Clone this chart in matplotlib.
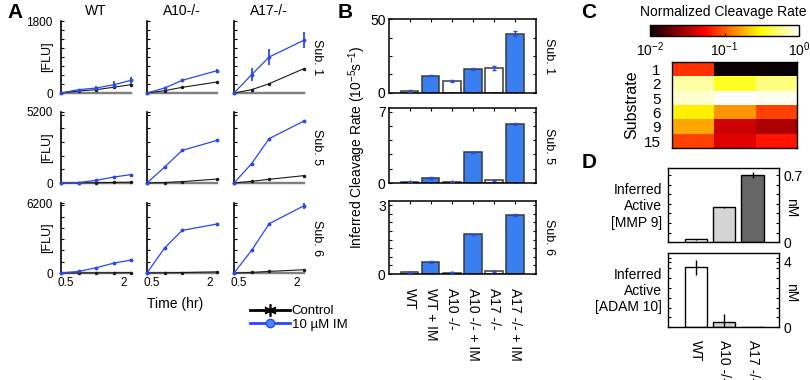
import numpy as np
import matplotlib
matplotlib.use("Agg")
import matplotlib.pyplot as plt
from matplotlib.colors import LogNorm
from matplotlib.lines import Line2D
import matplotlib.ticker as mticker

# ---------------- data ----------------
times_wt = [0.37, 0.83, 1.29, 1.76, 2.2]
times_ko = [0.37, 0.83, 1.29, 2.2]
genotype_titles = ["WT", "A10-/-", "A17-/-"]
substrate_rows = ["Sub. 1", "Sub. 5", "Sub. 6"]
flu_max = [1800, 5200, 6200]

sub1_ctrl = [[0, 50, 83, 146, 208], [0, 58, 142, 275], [0, 83, 233, 610]]
sub1_ctrl_err = [[0, 10, 10, 20, 20], [0, 10, 10, 20], [0, 10, 20, 25]]
sub1_im = [[0, 83, 125, 208, 317], [0, 125, 317, 558], [0, 458, 900, 1320]]
sub1_im_err = [[0, 20, 40, 80, 80], [0, 20, 20, 40], [0, 170, 200, 200]]

sub5_ctrl = [[0, 10, 20, 40, 60], [0, 30, 100, 290], [0, 124, 270, 540]]
sub5_ctrl_err = [[0, 5, 5, 10, 10], [0, 10, 10, 20], [0, 10, 20, 20]]
sub5_im = [[0, 30, 197, 440, 615], [0, 1170, 2390, 3120], [0, 1420, 3250, 4540]]
sub5_im_err = [[0, 20, 40, 60, 60], [0, 40, 60, 60], [0, 60, 60, 60]]

sub6_ctrl = [[0, 5, 10, 20, 30], [0, 20, 40, 100], [0, 50, 140, 290]]
sub6_ctrl_err = [[0, 5, 5, 10, 10], [0, 10, 10, 20], [0, 10, 20, 20]]
sub6_im = [[0, 140, 470, 880, 1150], [0, 2215, 3775, 4340], [0, 2000, 4370, 5960]]
sub6_im_err = [[0, 30, 60, 100, 80], [0, 60, 100, 100], [0, 60, 80, 250]]

conditions = ["WT", "WT + IM", "A10 -/-", "A10 -/- + IM", "A17 -/-", "A17 -/- + IM"]
rate_sub1 = [1.2, 11.5, 8.2, 16.1, 16.8, 40.3]
rate_sub1_err = [0.8, 0.4, 0.7, 0.4, 1.6, 1.5]
rate_sub5 = [0.1, 0.47, 0.1, 3.0, 0.26, 5.78]
rate_sub5_err = [0.03, 0.12, 0.03, 0.06, 0.05, 0.12]
rate_sub6 = [0.07, 0.53, 0.05, 1.72, 0.12, 2.56]
rate_sub6_err = [0.02, 0.03, 0.02, 0.04, 0.02, 0.04]
rate_label_max = [50, 7, 3]
rate_ylim = [50, 7.35, 3.19]

heat_substrates = ["1", "2", "5", "6", "9", "15"]
norm_rate = [
    [0.075, 0.01, 0.01],
    [0.65, 0.36, 0.55],
    [0.80, 1.00, 0.93],
    [0.28, 0.15, 0.085],
    [0.17, 0.038, 0.031],
    [0.085, 0.043, 0.062],
]

genotypes = ["WT", "A10 -/-", "A17 -/-"]
mmp9_nM = [0.031, 0.364, 0.70]
mmp9_err = [0.003, 0.007, 0.03]
adam10_nM = [3.66, 0.34, 0.0]
adam10_err = [0.46, 0.46, 0.0]

# ---------------- style ----------------
plt.rcParams['font.family'] = ['Liberation Sans', 'DejaVu Sans']
plt.rcParams['mathtext.fontset'] = 'custom'
plt.rcParams['mathtext.rm'] = 'Liberation Sans'
plt.rcParams['mathtext.it'] = 'Liberation Sans:italic'
plt.rcParams['mathtext.default'] = 'regular'

W, H = 810, 380
fig = plt.figure(figsize=(W / 100, H / 100), dpi=100)
BLUE = '#2848f0'
BARBLUE = '#3a7ff0'


def px_axes(x0, y0, x1, y1):
    return fig.add_axes([x0 / W, 1 - y1 / H, (x1 - x0) / W, (y1 - y0) / H])


def px_text(x, y, s, **kw):
    kw.setdefault('ha', 'center')
    kw.setdefault('va', 'center')
    return fig.text(x / W, 1 - y / H, s, **kw)


# ---------------- Panel A ----------------
cols_x = [(61, 131), (147, 217), (234, 304)]
rows_y = [(21, 93), (112, 183), (203, 273)]
minor_step = [225, 1000, 1000]
ctrl_all = [sub1_ctrl, sub5_ctrl, sub6_ctrl]
ctrl_err_all = [sub1_ctrl_err, sub5_ctrl_err, sub6_ctrl_err]
im_all = [sub1_im, sub5_im, sub6_im]
im_err_all = [sub1_im_err, sub5_im_err, sub6_im_err]

for r in range(3):
    for c in range(3):
        ax = px_axes(cols_x[c][0], rows_y[r][0], cols_x[c][1], rows_y[r][1])
        t = times_wt if c == 0 else times_ko
        ax.axhline(0, color='#808080', lw=1.6, zorder=1, clip_on=False)
        e1 = ax.errorbar(t, ctrl_all[r][c], yerr=ctrl_err_all[r][c], color='#1a1a1a',
                         lw=0.8, marker='.', ms=3, elinewidth=0.9, capsize=0, zorder=3)
        e2 = ax.errorbar(t, im_all[r][c], yerr=im_err_all[r][c], color=BLUE,
                         lw=0.9, marker='.', ms=3.5, elinewidth=1.3, capsize=0, zorder=4)
        for cont in (e1, e2):
            for art in cont.get_children():
                art.set_clip_on(False)
        ax.set_xlim(0.37, 2.2)
        ax.set_ylim(0, flu_max[r])
        for s in ('top', 'right'):
            ax.spines[s].set_visible(False)
        ax.spines['left'].set_linewidth(1.2)
        ax.spines['bottom'].set_color('#808080')
        ax.spines['bottom'].set_linewidth(1.6)
        ax.set_yticks([0, flu_max[r]])
        ax.yaxis.set_minor_locator(mticker.MultipleLocator(minor_step[r]))
        if c == 0:
            ax.set_yticklabels(['0', str(flu_max[r])])
        else:
            ax.set_yticklabels([])
        ax.tick_params(axis='y', which='both', direction='in', length=2.5, width=0.8,
                       labelsize=8.5, pad=6)
        ax.set_xticks([0.5, 2])
        if r == 2:
            ax.set_xticklabels(['0.5', '2'])
        else:
            ax.set_xticklabels([])
        ax.tick_params(axis='x', length=0, labelsize=8.5, pad=3)
        if r == 0:
            px_text((cols_x[c][0] + cols_x[c][1]) / 2, 11, genotype_titles[c], fontsize=10)
    px_text(47, (rows_y[r][0] + rows_y[r][1]) / 2, '[FLU]', rotation=90, fontsize=9)
    px_text(317, (rows_y[r][0] + rows_y[r][1]) / 2, substrate_rows[r], rotation=-90, fontsize=9)

px_text(175, 304, 'Time (hr)', fontsize=10)
h1 = Line2D([], [], color='black', lw=2, marker=(6, 2, 0), ms=9, mew=1.2)
h2 = Line2D([], [], color=BLUE, lw=2, marker='o', ms=6, mfc='#4a8cff', mec=BLUE)
fig.legend([h1, h2], ['Control', '10 µM IM'], loc='upper left',
           bbox_to_anchor=(250 / W, 1 - 305 / H), frameon=False, fontsize=9.5,
           handlelength=3.0, handletextpad=0.15, labelspacing=0.12,
           borderpad=0, borderaxespad=0)

# ---------------- Panel B ----------------
b_rows = [(19.3, 92.7), (108, 183), (200.7, 274)]
rates = [rate_sub1, rate_sub5, rate_sub6]
rate_errs = [rate_sub1_err, rate_sub5_err, rate_sub6_err]
b_minor = [12.5, 1.4, 0.375]
xb = np.arange(1, len(conditions) + 1)
bar_colors = ['white' if i % 2 == 0 else BARBLUE for i in range(len(conditions))]
for r in range(3):
    ax = px_axes(388.5, b_rows[r][0], 536, b_rows[r][1])
    ax.bar(xb, rates[r], width=0.84, color=bar_colors, edgecolor='#3a3a3a', lw=1.1, zorder=2)
    ax.errorbar(xb, rates[r], yerr=rate_errs[r], fmt='none', ecolor=BLUE,
                elinewidth=1.0, capsize=1.2, zorder=3)
    ax.set_xlim(0, 7)
    ax.set_ylim(0, rate_ylim[r])
    ax.set_yticks([0, rate_label_max[r]])
    ax.set_yticklabels(['0', str(rate_label_max[r])])
    ax.yaxis.set_minor_locator(mticker.MultipleLocator(b_minor[r]))
    ax.tick_params(axis='y', which='both', direction='in', length=2.5, width=0.8,
                   right=True, labelsize=10, pad=2)
    ax.set_xticks(xb)
    ax.tick_params(axis='x', direction='in', length=2.5, width=0.8, top=True, labelsize=10, pad=10)
    if r == 2:
        ax.set_xticklabels(conditions, rotation=-90, ha='center', va='top')
    else:
        ax.set_xticklabels([])
    for s in ax.spines.values():
        s.set_linewidth(1.1)
    px_text(549, (b_rows[r][0] + b_rows[r][1]) / 2, substrate_rows[r], rotation=-90, fontsize=9)

px_text(357, 147, r'Inferred Cleavage Rate (10$^{-5}$s$^{-1}$)', rotation=90, fontsize=10)

# ---------------- Panel C ----------------
cax = px_axes(650, 25, 799, 36)
hax = px_axes(671.7, 62.3, 797.3, 148.3)
img = hax.imshow(np.array(norm_rate), cmap='hot', norm=LogNorm(0.01, 1), aspect='auto',
                 interpolation='nearest')
cb = fig.colorbar(img, cax=cax, orientation='horizontal')
cb.set_ticks([0.01, 0.1, 1])
cb.set_ticklabels(['$10^{-2}$', '$10^{-1}$', '$10^{0}$'])
cb.ax.xaxis.set_minor_locator(mticker.NullLocator())
cb.ax.tick_params(direction='in', length=2, labelsize=10, pad=3)
cb.outline.set_linewidth(1.0)
hax.set_xticks([])
hax.set_yticks(range(len(heat_substrates)))
hax.set_yticklabels(heat_substrates)
hax.tick_params(axis='y', length=0, labelsize=11, pad=8)
for s in hax.spines.values():
    s.set_linewidth(1.0)
px_text(723, 12, 'Normalized Cleavage Rate', fontsize=10)
px_text(632, 105, 'Substrate', rotation=90, fontsize=11.5)

# ---------------- Panel D ----------------
d_rows = [(168.3, 242.3), (253.3, 327.3)]
d_vals = [mmp9_nM, adam10_nM]
d_errs = [mmp9_err, adam10_err]
d_label_max = [0.7, 4]
d_ylim = [0.77, 4.5]
d_minor = [0.1, 0.6]
d_labels = ['Inferred\nActive\n[MMP 9]', 'Inferred\nActive\n[ADAM 10]']
xd = np.arange(1, len(genotypes) + 1)
d_colors = ['white', '#d4d4d4', '#666666']
for r in range(2):
    ax = px_axes(668.3, d_rows[r][0], 779, d_rows[r][1])
    ax.bar(xd, d_vals[r], width=0.78, color=d_colors, edgecolor='black', lw=1.0, zorder=2)
    ax.errorbar(xd, d_vals[r], yerr=d_errs[r], fmt='none', ecolor='black',
                elinewidth=1.0, capsize=0, zorder=3)
    ax.set_xlim(0.04, 3.93)
    ax.set_ylim(0, d_ylim[r])
    ax.yaxis.tick_right()
    ax.set_yticks([0, d_label_max[r]])
    ax.set_yticklabels(['0', f'{d_label_max[r]:g}'])
    ax.yaxis.set_minor_locator(mticker.MultipleLocator(d_minor[r]))
    ax.tick_params(axis='y', which='both', direction='in', length=2.5, width=0.8,
                   left=True, right=True, labelsize=10, pad=3)
    ax.set_xticks(xd)
    ax.tick_params(axis='x', length=0, labelsize=10, pad=9)
    if r == 1:
        ax.set_xticklabels(genotypes, rotation=-90, ha='center', va='top')
    else:
        ax.set_xticklabels([])
    for s in ax.spines.values():
        s.set_linewidth(1.0)
    cy = (d_rows[r][0] + d_rows[r][1]) / 2
    px_text(662, cy + 1, d_labels[r], ha='right', fontsize=10, linespacing=1.2)
    px_text(791, cy + 2, 'nM', rotation=-90, fontsize=10)

# ---------------- panel letters ----------------
for lx, ly, L in [(15, 13, 'A'), (345, 13, 'B'), (589, 13, 'C'), (589, 163, 'D')]:
    px_text(lx, ly, L, fontsize=15, fontweight='bold')

fig.savefig('out.png', dpi=100)
